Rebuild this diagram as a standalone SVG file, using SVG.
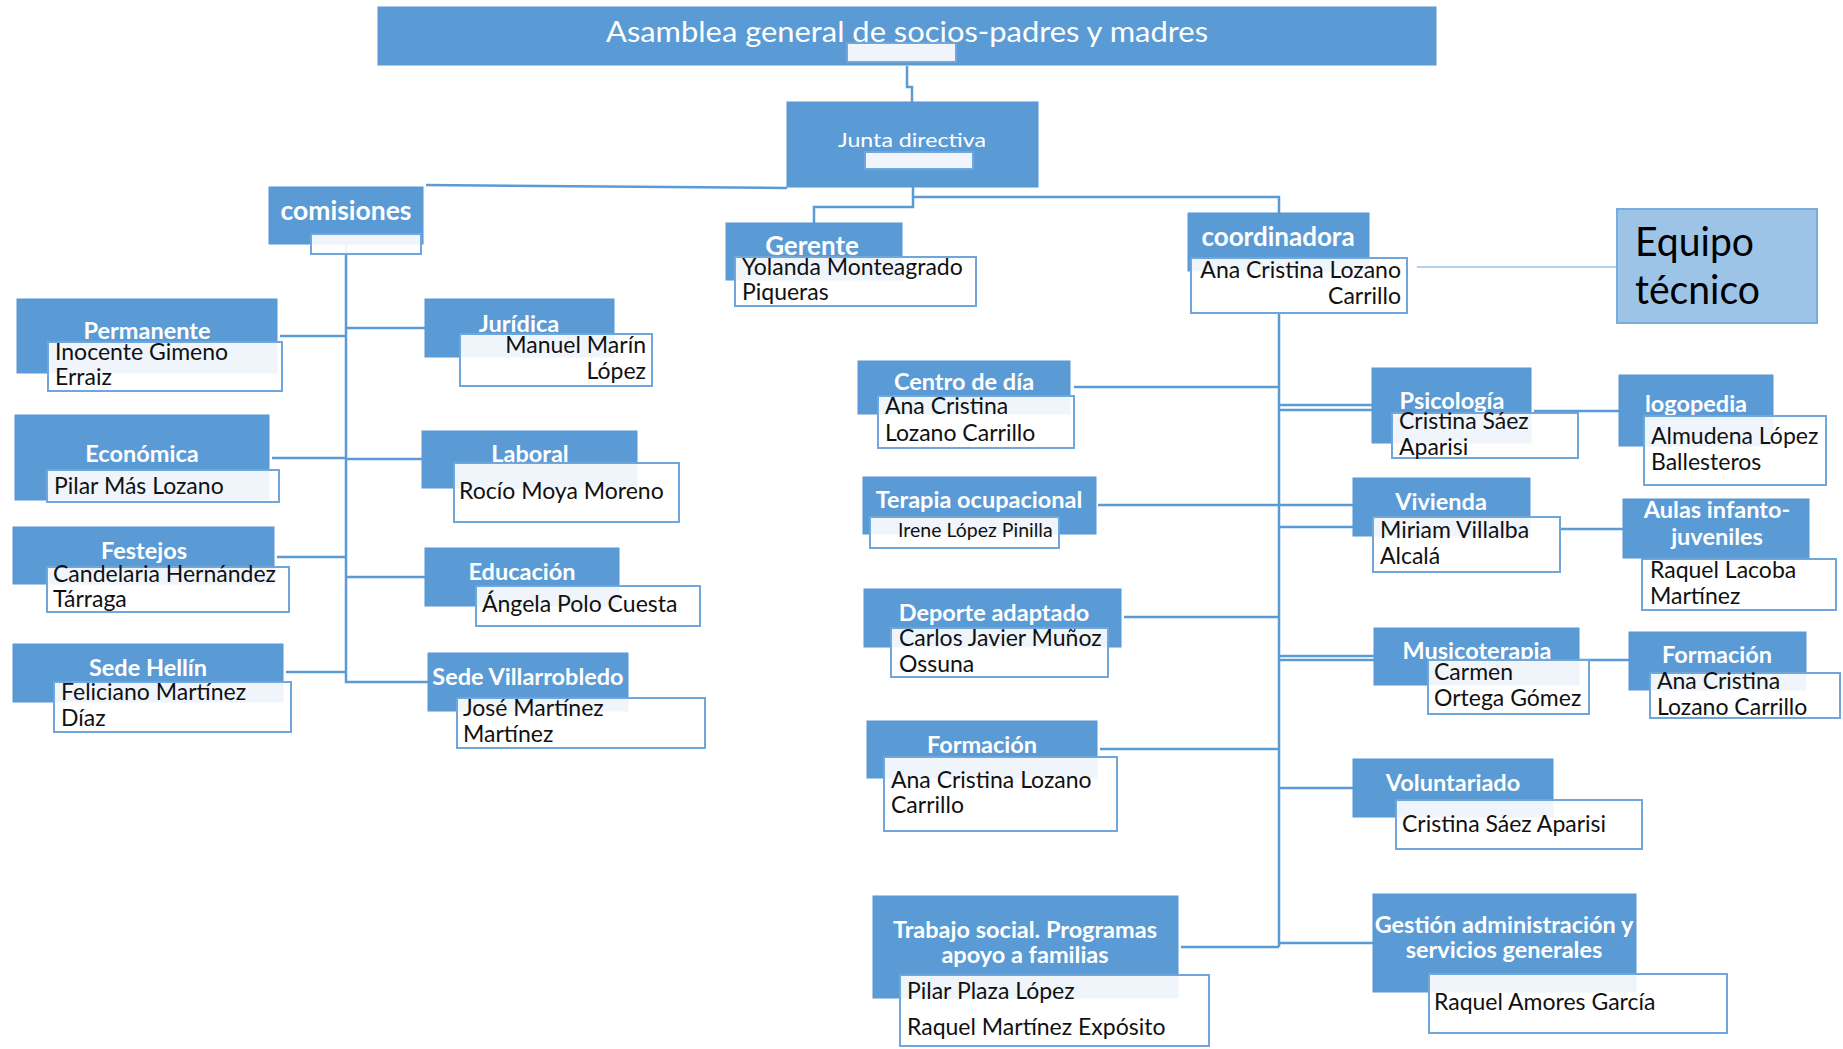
<svg xmlns="http://www.w3.org/2000/svg" width="1843" height="1049" viewBox="0 0 1843 1049">
  <style>
    .blue { fill: #5B9BD5; stroke: #5896D3; stroke-width: 1; }
    .card { fill: #ffffff; fill-opacity: 0.9; stroke: #6FA6DC; stroke-width: 2; }
    .ttl { font-family: Lato, "Liberation Sans", sans-serif; font-weight: bold; font-size: 23.5px; fill: #ffffff; text-anchor: middle; }
    .big { font-size: 26px; }
    .nm { font-family: Lato, "Liberation Sans", sans-serif; font-size: 23px; fill: #111111; }
    .r { text-anchor: end; }
    .ln { stroke: #5B9BD5; stroke-width: 2.5; fill: none; }
    .thin { stroke: #9DC3E6; stroke-width: 1.5; fill: none; }
    .eq { font-family: Lato, "Liberation Sans", sans-serif; font-size: 41px; fill: #000000; }
  </style>
  <rect width="1843" height="1049" fill="#ffffff"/>

  <!-- connectors -->
  <g id="connectors">
    <path class="ln" d="M907,66 V87 H912 V102"/>
    <path class="ln" d="M426,185 L787,188"/>
    <path class="ln" d="M913,187 V207 H814 V223"/>
    <path class="ln" d="M913,197 H1279 V213"/>
    <!-- comisiones -->
    <path class="ln" d="M346,244 V682 H428"/>
    <path class="ln" d="M280,336 H346"/>
    <path class="ln" d="M272,458 H346"/>
    <path class="ln" d="M277,557 H346"/>
    <path class="ln" d="M286,672 H346"/>
    <path class="ln" d="M346,328 H425"/>
    <path class="ln" d="M346,459 H422"/>
    <path class="ln" d="M346,577 H425"/>
    <!-- coordinadora -->
    <path class="ln" d="M1279,313 V947"/>
    <path class="thin" d="M1417,267 H1617"/>
    <path class="ln" d="M1074,387 H1279"/>
    <path class="ln" d="M1098,505 H1353"/>
    <path class="ln" d="M1279,527 H1353"/>
    <path class="ln" stroke-width="2" d="M1279,405 H1372 M1279,410 H1372"/>
    <path class="ln" d="M1124,617 H1279"/>
    <path class="ln" stroke-width="2" d="M1279,656 H1374 M1279,660 H1374"/>
    <path class="ln" d="M1100,749 H1279"/>
    <path class="ln" d="M1279,788 H1353"/>
    <path class="ln" d="M1181,947 H1279"/>
    <path class="ln" d="M1279,943 H1373"/>
    <path class="ln" d="M1534,411 H1619"/>
    <path class="ln" d="M1560,529 H1623"/>
    <path class="ln" d="M1579,660 H1629"/>
  </g>

  <!-- top level -->
  <g id="asamblea">
    <rect class="blue" x="378" y="7" width="1058" height="58"/>
    <text class="ttl" x="907" y="42" style="font-weight:normal;font-size:28px" textLength="602" lengthAdjust="spacingAndGlyphs">Asamblea general de socios-padres y madres</text>
    <rect class="card" x="847" y="43" width="109" height="19"/>
  </g>
  <g id="junta">
    <rect class="blue" x="787" y="102" width="251" height="85"/>
    <text class="ttl" x="912" y="147" style="font-weight:normal;font-size:20px" textLength="148" lengthAdjust="spacingAndGlyphs">Junta directiva</text>
    <rect class="card" x="865" y="152" width="108" height="17"/>
  </g>
  <g id="comisiones">
    <rect class="blue" x="269" y="187" width="154" height="57"/>
    <text class="ttl big" x="346" y="220" textLength="131" lengthAdjust="spacingAndGlyphs">comisiones</text>
    <rect class="card" x="311" y="234" width="110" height="20"/>
  </g>

  <!-- comisiones, left column -->
  <g id="permanente">
    <rect class="blue" x="17" y="299" width="260" height="74"/>
    <text class="ttl" x="147" y="339">Permanente</text>
    <rect class="card" x="48" y="342" width="234" height="49"/>
    <text class="nm" x="55" y="360">Inocente Gimeno</text>
    <text class="nm" x="55" y="385">Erraiz</text>
  </g>
  <g id="economica">
    <rect class="blue" x="15" y="415" width="254" height="85"/>
    <text class="ttl" x="142" y="462">Económica</text>
    <rect class="card" x="47" y="470" width="232" height="32"/>
    <text class="nm" x="54" y="494">Pilar Más Lozano</text>
  </g>
  <g id="festejos">
    <rect class="blue" x="13" y="527" width="261" height="57"/>
    <text class="ttl" x="144" y="559">Festejos</text>
    <rect class="card" x="47" y="567" width="242" height="45"/>
    <text class="nm" x="53" y="582">Candelaria Hernández</text>
    <text class="nm" x="53" y="607">Tárraga</text>
  </g>
  <g id="sede-hellin">
    <rect class="blue" x="13" y="644" width="270" height="58"/>
    <text class="ttl" x="148" y="676">Sede Hellín</text>
    <rect class="card" x="54" y="682" width="237" height="50"/>
    <text class="nm" x="61" y="700">Feliciano Martínez</text>
    <text class="nm" x="61" y="726">Díaz</text>
  </g>

  <!-- comisiones, right column -->
  <g id="juridica">
    <rect class="blue" x="425" y="299" width="189" height="58"/>
    <text class="ttl" x="519" y="332">Jurídica</text>
    <rect class="card" x="460" y="334" width="192" height="52"/>
    <text class="nm r" x="646" y="353">Manuel Marín</text>
    <text class="nm r" x="646" y="379">López</text>
  </g>
  <g id="laboral">
    <rect class="blue" x="422" y="431" width="215" height="57"/>
    <text class="ttl" x="530" y="462">Laboral</text>
    <rect class="card" x="454" y="463" width="225" height="59"/>
    <text class="nm" x="459" y="499">Rocío Moya Moreno</text>
  </g>
  <g id="educacion">
    <rect class="blue" x="425" y="548" width="194" height="58"/>
    <text class="ttl" x="522" y="580">Educación</text>
    <rect class="card" x="476" y="586" width="224" height="40"/>
    <text class="nm" x="482" y="612">Ángela Polo Cuesta</text>
  </g>
  <g id="sede-villarrobledo">
    <rect class="blue" x="428" y="653" width="200" height="58"/>
    <text class="ttl" x="528" y="685">Sede Villarrobledo</text>
    <rect class="card" x="457" y="698" width="248" height="50"/>
    <text class="nm" x="463" y="716">José Martínez</text>
    <text class="nm" x="463" y="742">Martínez</text>
  </g>

  <!-- management -->
  <g id="gerente">
    <rect class="blue" x="726" y="223" width="176" height="57"/>
    <text class="ttl big" x="812" y="255">Gerente</text>
    <rect class="card" x="735" y="257" width="241" height="49"/>
    <text class="nm" x="742" y="275">Yolanda Monteagrado</text>
    <text class="nm" x="742" y="300">Piqueras</text>
  </g>
  <g id="coordinadora">
    <rect class="blue" x="1188" y="213" width="181" height="58"/>
    <text class="ttl big" x="1278" y="246">coordinadora</text>
    <rect class="card" x="1191" y="258" width="216" height="55"/>
    <text class="nm r" x="1401" y="278">Ana Cristina Lozano</text>
    <text class="nm r" x="1401" y="304">Carrillo</text>
  </g>
  <g id="equipo-tecnico">
    <rect x="1617" y="209" width="200" height="114" fill="#9DC3E6" stroke="#79ACDD" stroke-width="2"/>
    <text class="eq" x="1635" y="256" textLength="119" lengthAdjust="spacingAndGlyphs">Equipo</text>
    <text class="eq" x="1635" y="304" textLength="125" lengthAdjust="spacingAndGlyphs">técnico</text>
  </g>

  <!-- technical team, left column -->
  <g id="centro-de-dia">
    <rect class="blue" x="858" y="361" width="212" height="53"/>
    <text class="ttl" x="964" y="390">Centro de día</text>
    <rect class="card" x="878" y="396" width="196" height="52"/>
    <text class="nm" x="885" y="414">Ana Cristina</text>
    <text class="nm" x="885" y="441">Lozano Carrillo</text>
  </g>
  <g id="terapia-ocupacional">
    <rect class="blue" x="863" y="477" width="233" height="57"/>
    <text class="ttl" x="979" y="508">Terapia ocupacional</text>
    <rect class="card" x="870" y="517" width="189" height="31"/>
    <text class="nm" x="898" y="537" style="font-size:19.5px">Irene López Pinilla</text>
  </g>
  <g id="deporte-adaptado">
    <rect class="blue" x="864" y="589" width="257" height="58"/>
    <text class="ttl" x="994" y="621">Deporte adaptado</text>
    <rect class="card" x="891" y="628" width="217" height="49"/>
    <text class="nm" x="899" y="646">Carlos Javier Muñoz</text>
    <text class="nm" x="899" y="672">Ossuna</text>
  </g>
  <g id="formacion-1">
    <rect class="blue" x="867" y="721" width="230" height="57"/>
    <text class="ttl" x="982" y="753">Formación</text>
    <rect class="card" x="884" y="757" width="233" height="74"/>
    <text class="nm" x="891" y="788">Ana Cristina Lozano</text>
    <text class="nm" x="891" y="813">Carrillo</text>
  </g>
  <g id="trabajo-social">
    <rect class="blue" x="873" y="896" width="305" height="102"/>
    <text class="ttl" x="1025" y="938">Trabajo social. Programas</text>
    <text class="ttl" x="1025" y="963">apoyo a familias</text>
    <rect class="card" x="900" y="975" width="309" height="71"/>
    <text class="nm" x="907" y="999">Pilar Plaza López</text>
    <text class="nm" x="907" y="1035">Raquel Martínez Expósito</text>
  </g>

  <!-- technical team, middle column -->
  <g id="psicologia">
    <rect class="blue" x="1372" y="368" width="159" height="75"/>
    <text class="ttl" x="1452" y="409">Psicología</text>
    <rect class="card" x="1392" y="413" width="186" height="45"/>
    <text class="nm" x="1399" y="429">Cristina Sáez</text>
    <text class="nm" x="1399" y="455">Aparisi</text>
  </g>
  <g id="vivienda">
    <rect class="blue" x="1353" y="478" width="177" height="58"/>
    <text class="ttl" x="1441" y="510">Vivienda</text>
    <rect class="card" x="1373" y="517" width="187" height="55"/>
    <text class="nm" x="1380" y="538">Miriam Villalba</text>
    <text class="nm" x="1380" y="564">Alcalá</text>
  </g>
  <g id="musicoterapia">
    <rect class="blue" x="1374" y="628" width="205" height="57"/>
    <text class="ttl" x="1477" y="659">Musicoterapia</text>
    <rect class="card" x="1428" y="660" width="161" height="54"/>
    <text class="nm" x="1434" y="680">Carmen</text>
    <text class="nm" x="1434" y="706">Ortega Gómez</text>
  </g>
  <g id="voluntariado">
    <rect class="blue" x="1353" y="759" width="200" height="58"/>
    <text class="ttl" x="1453" y="791">Voluntariado</text>
    <rect class="card" x="1396" y="800" width="246" height="49"/>
    <text class="nm" x="1402" y="832">Cristina Sáez Aparisi</text>
  </g>
  <g id="gestion">
    <rect class="blue" x="1373" y="894" width="263" height="98"/>
    <text class="ttl" x="1504" y="933">Gestión administración y</text>
    <text class="ttl" x="1504" y="958">servicios generales</text>
    <rect class="card" x="1429" y="974" width="298" height="59"/>
    <text class="nm" x="1434" y="1010">Raquel Amores García</text>
  </g>

  <!-- technical team, right column -->
  <g id="logopedia">
    <rect class="blue" x="1619" y="375" width="154" height="71"/>
    <text class="ttl" x="1696" y="412">logopedia</text>
    <rect class="card" x="1644" y="416" width="182" height="69"/>
    <text class="nm" x="1651" y="444">Almudena López</text>
    <text class="nm" x="1651" y="470">Ballesteros</text>
  </g>
  <g id="aulas">
    <rect class="blue" x="1623" y="499" width="186" height="59"/>
    <text class="ttl" x="1717" y="518">Aulas infanto-</text>
    <text class="ttl" x="1717" y="545">juveniles</text>
    <rect class="card" x="1642" y="559" width="194" height="51"/>
    <text class="nm" x="1650" y="578">Raquel Lacoba</text>
    <text class="nm" x="1650" y="604">Martínez</text>
  </g>
  <g id="formacion-2">
    <rect class="blue" x="1629" y="632" width="177" height="58"/>
    <text class="ttl" x="1717" y="663">Formación</text>
    <rect class="card" x="1650" y="673" width="190" height="45"/>
    <text class="nm" x="1657" y="689">Ana Cristina</text>
    <text class="nm" x="1657" y="715">Lozano Carrillo</text>
  </g>
</svg>
